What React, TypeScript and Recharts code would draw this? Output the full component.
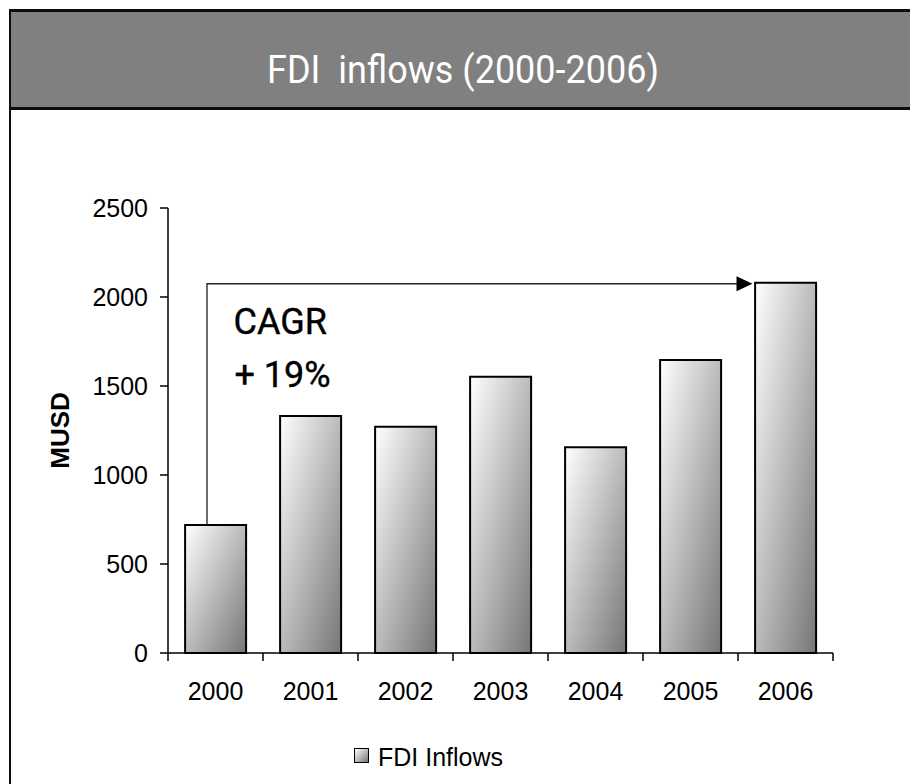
import { BarChart, Bar, XAxis, YAxis, ReferenceLine, Label } from "recharts";

const years = ["2000", "2001", "2002", "2003", "2004", "2005", "2006"];
const fdiInflows = [719, 1331, 1271, 1552, 1156, 1646, 2080];
const yTicks = [0, 500, 1000, 1500, 2000, 2500];
const cagrFrom = { year: "2000", value: 719 };
const cagrTo = { year: "2006", value: 2080 };
const cagrText = ["CAGR", "+ 19%"];

const data = years.map((year, i) => ({ year, fdi: fdiInflows[i] }));

const ARIAL = "'Liberation Sans', Arial, sans-serif";
const NARROW = "Roboto, 'Open Sans', sans-serif";

function YearTick(props: any) {
  const { x, y, payload, index } = props;
  const half = payload && payload.offset ? payload.offset : 47.5;
  return (
    <g>
      <line x1={x - half} x2={x - half} y1={y} y2={y + 8} stroke="#000" strokeWidth={1.5} />
      {index === years.length - 1 && (
        <line x1={x + half} x2={x + half} y1={y} y2={y + 8} stroke="#000" strokeWidth={1.5} />
      )}
      <text x={x} y={y + 47} textAnchor="middle" fontSize={25} fontFamily={ARIAL} fill="#000">
        {payload.value}
      </text>
    </g>
  );
}

function CagrArrow(props: any) {
  const { x1, y1, x2, y2 } = props;
  if (x1 == null) return null;
  const lx = x1 - 8.5;
  const ly = y2 + 1;
  const tip = x2 - 33;
  return (
    <g>
      <polyline
        points={`${lx},${y1} ${lx},${ly} ${tip - 14},${ly}`}
        fill="none"
        stroke="#222"
        strokeWidth={1.3}
      />
      <polygon points={`${tip - 16},${ly - 7.5} ${tip},${ly} ${tip - 16},${ly + 7.5}`} fill="#000" />
      <text x={x1 + 18} y={y2 + 51} fontSize={36} fontFamily={NARROW} fill="#000" stroke="#000" strokeWidth={0.4}>
        {cagrText[0]}
      </text>
      <text x={x1 + 19} y={y2 + 104} fontSize={36} fontFamily={NARROW} fill="#000" stroke="#000" strokeWidth={0.4}>
        {cagrText[1]}
      </text>
    </g>
  );
}

function MusdLabel(props: any) {
  const vb = props.viewBox;
  const cy = vb ? vb.y + vb.height / 2 : 430;
  return (
    <text
      x={60}
      y={cy}
      transform={`rotate(-90, 60, ${cy})`}
      textAnchor="middle"
      dominantBaseline="central"
      fontSize={26}
      fontWeight="bold"
      fontFamily={ARIAL}
      fill="#000"
    >
      MUSD
    </text>
  );
}

export default function App() {
  return (
    <div
      style={{
        position: "absolute",
        left: 0,
        top: 0,
        width: 910,
        height: 784,
        overflow: "hidden",
        background: "#fff",
      }}
    >
      {/* header band */}
      <div
        style={{
          position: "absolute",
          left: 9,
          top: 9,
          width: 910,
          height: 95,
          background: "#808080",
          borderTop: "3px solid #0d0d0d",
          borderBottom: "3px solid #0d0d0d",
          borderLeft: "2px solid #0d0d0d",
        }}
      />
      <div
        style={{
          position: "absolute",
          left: 9,
          top: 110,
          width: 2,
          height: 700,
          background: "#0d0d0d",
        }}
      />
      <div
        style={{
          position: "absolute",
          left: 11,
          width: 904,
          top: 52,
          textAlign: "center",
          color: "#fff",
          fontFamily: NARROW,
          fontSize: 36,
          lineHeight: "36px",
          whiteSpace: "pre",
          transform: "scaleY(1.08)",
        }}
      >
        {"FDI  inflows (2000-2006)"}
      </div>

      <div style={{ position: "absolute", left: 0, top: 0 }}>
        <BarChart
          width={910}
          height={784}
          data={data}
          margin={{ top: 208, right: 77, bottom: 71, left: 68 }}
          barCategoryGap="18%"
        >
          <defs>
            <linearGradient id="barGrad" x1="0" y1="0" x2="1" y2="1">
              <stop offset="0%" stopColor="#ffffff" />
              <stop offset="100%" stopColor="#767676" />
            </linearGradient>
          </defs>
          <XAxis
            dataKey="year"
            height={60}
            interval={0}
            tickSize={0}
            tickMargin={0}
            tickLine={false}
            axisLine={{ stroke: "#000", strokeWidth: 1.5 }}
            tick={<YearTick />}
          />
          <YAxis
            width={100}
            domain={[0, 2500]}
            ticks={yTicks}
            interval={0}
            tickSize={8}
            tickMargin={12}
            axisLine={{ stroke: "#000", strokeWidth: 1.5 }}
            tickLine={{ stroke: "#000", strokeWidth: 1.5 }}
            tick={{ fontSize: 25, fill: "#000", fontFamily: ARIAL }}
          >
            <Label content={<MusdLabel />} />
          </YAxis>
          <Bar
            dataKey="fdi"
            name="FDI Inflows"
            fill="url(#barGrad)"
            stroke="#000"
            strokeWidth={2}
            isAnimationActive={false}
          />
          <ReferenceLine
            segment={[
              { x: cagrFrom.year, y: cagrFrom.value },
              { x: cagrTo.year, y: cagrTo.value },
            ]}
            shape={<CagrArrow />}
          />
        </BarChart>
      </div>

      {/* legend */}
      <div
        style={{
          position: "absolute",
          left: 354,
          top: 748,
          width: 13,
          height: 13,
          border: "1.5px solid #000",
          background: "linear-gradient(135deg, #ffffff, #767676)",
        }}
      />
      <div
        style={{
          position: "absolute",
          left: 378,
          top: 745,
          fontFamily: ARIAL,
          fontSize: 25,
          lineHeight: "25px",
          color: "#000",
          whiteSpace: "nowrap",
        }}
      >
        FDI Inflows
      </div>
    </div>
  );
}
